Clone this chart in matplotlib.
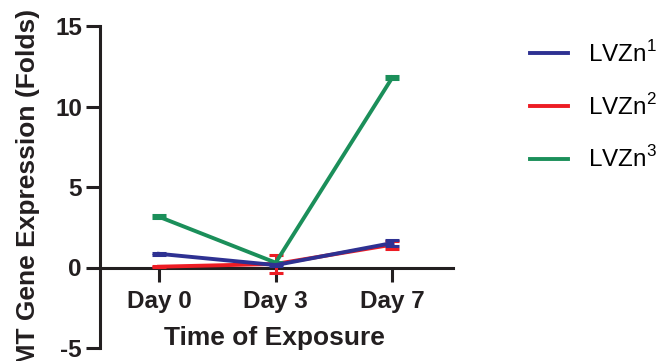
import matplotlib.pyplot as plt

plt.rcParams['font.family'] = ['Liberation Sans', 'DejaVu Sans']
plt.rcParams['mathtext.fontset'] = 'custom'
plt.rcParams['mathtext.rm'] = 'Liberation Sans'
plt.rcParams['axes.unicode_minus'] = False

# data
days = ['Day 0', 'Day 3', 'Day 7']
lvzn1 = [0.85, 0.15, 1.52]
lvzn1_err = [0.08, 0.05, 0.2]
lvzn2 = [0.05, 0.22, 1.42]
lvzn2_err = [0.03, 0.58, 0.24]
lvzn3 = [3.15, 0.3, 11.8]
lvzn3_err = [0.1, 0.05, 0.08]
labels = ['LVZn$^1$', 'LVZn$^2$', 'LVZn$^3$']
colors = ['#2e3192', '#ed1c24', '#1b8f5a']

fig = plt.figure(figsize=(6.65, 3.61), dpi=100)
ax = fig.add_axes([100/665, 1-348/361, 353/665, 322/361])

x = list(range(len(days)))
series = [(lvzn1, lvzn1_err), (lvzn2, lvzn2_err), (lvzn3, lvzn3_err)]
zorders = [5, 3, 4]
handles = []
for (y, e), c, lab, z in zip(series, colors, labels, zorders):
    eb = ax.errorbar(x, y, yerr=e, color=c, lw=2.8, capsize=5, capthick=2.2,
                     elinewidth=2.2, label=lab, zorder=z)
    handles.append(eb[0])

ax.set_xlim(-0.506, 2.52)
ax.set_ylim(-5, 15)
ax.set_yticks([-5, 0, 5, 10, 15])
ax.set_xticks(x)
ax.set_xticklabels(days)

for s in ['top', 'right']:
    ax.spines[s].set_visible(False)
ax.spines['bottom'].set_position(('data', 0))
ax.spines['left'].set_linewidth(2.2)
ax.spines['bottom'].set_linewidth(2.2)
ax.spines['left'].set_color('#231f20')
ax.spines['bottom'].set_color('#231f20')
ax.tick_params(axis='both', width=2.2, length=10, color='#231f20',
               labelsize=17.5, labelcolor='#231f20')
ax.tick_params(axis='y', pad=3)
ax.tick_params(axis='x', pad=6)
for t in ax.get_xticklabels() + ax.get_yticklabels():
    t.set_fontweight('bold')

fig.text(274/665, 1-338/361, 'Time of Exposure', ha='center', va='center',
         fontsize=19, fontweight='bold', color='#231f20')
fig.text(28/665, 1-9/361, 'EMT Gene Expression (Folds)', ha='center', va='top',
         rotation=90, fontsize=19, fontweight='bold', color='#231f20')

fig.legend(handles=handles, labels=labels, loc='upper left',
           bbox_to_anchor=(530/665, 1-41/361), frameon=False,
           borderaxespad=0, borderpad=0,
           fontsize=17.5, handlelength=1.55, handletextpad=0.85, labelspacing=1.1)

fig.savefig('out.png', dpi=100)
